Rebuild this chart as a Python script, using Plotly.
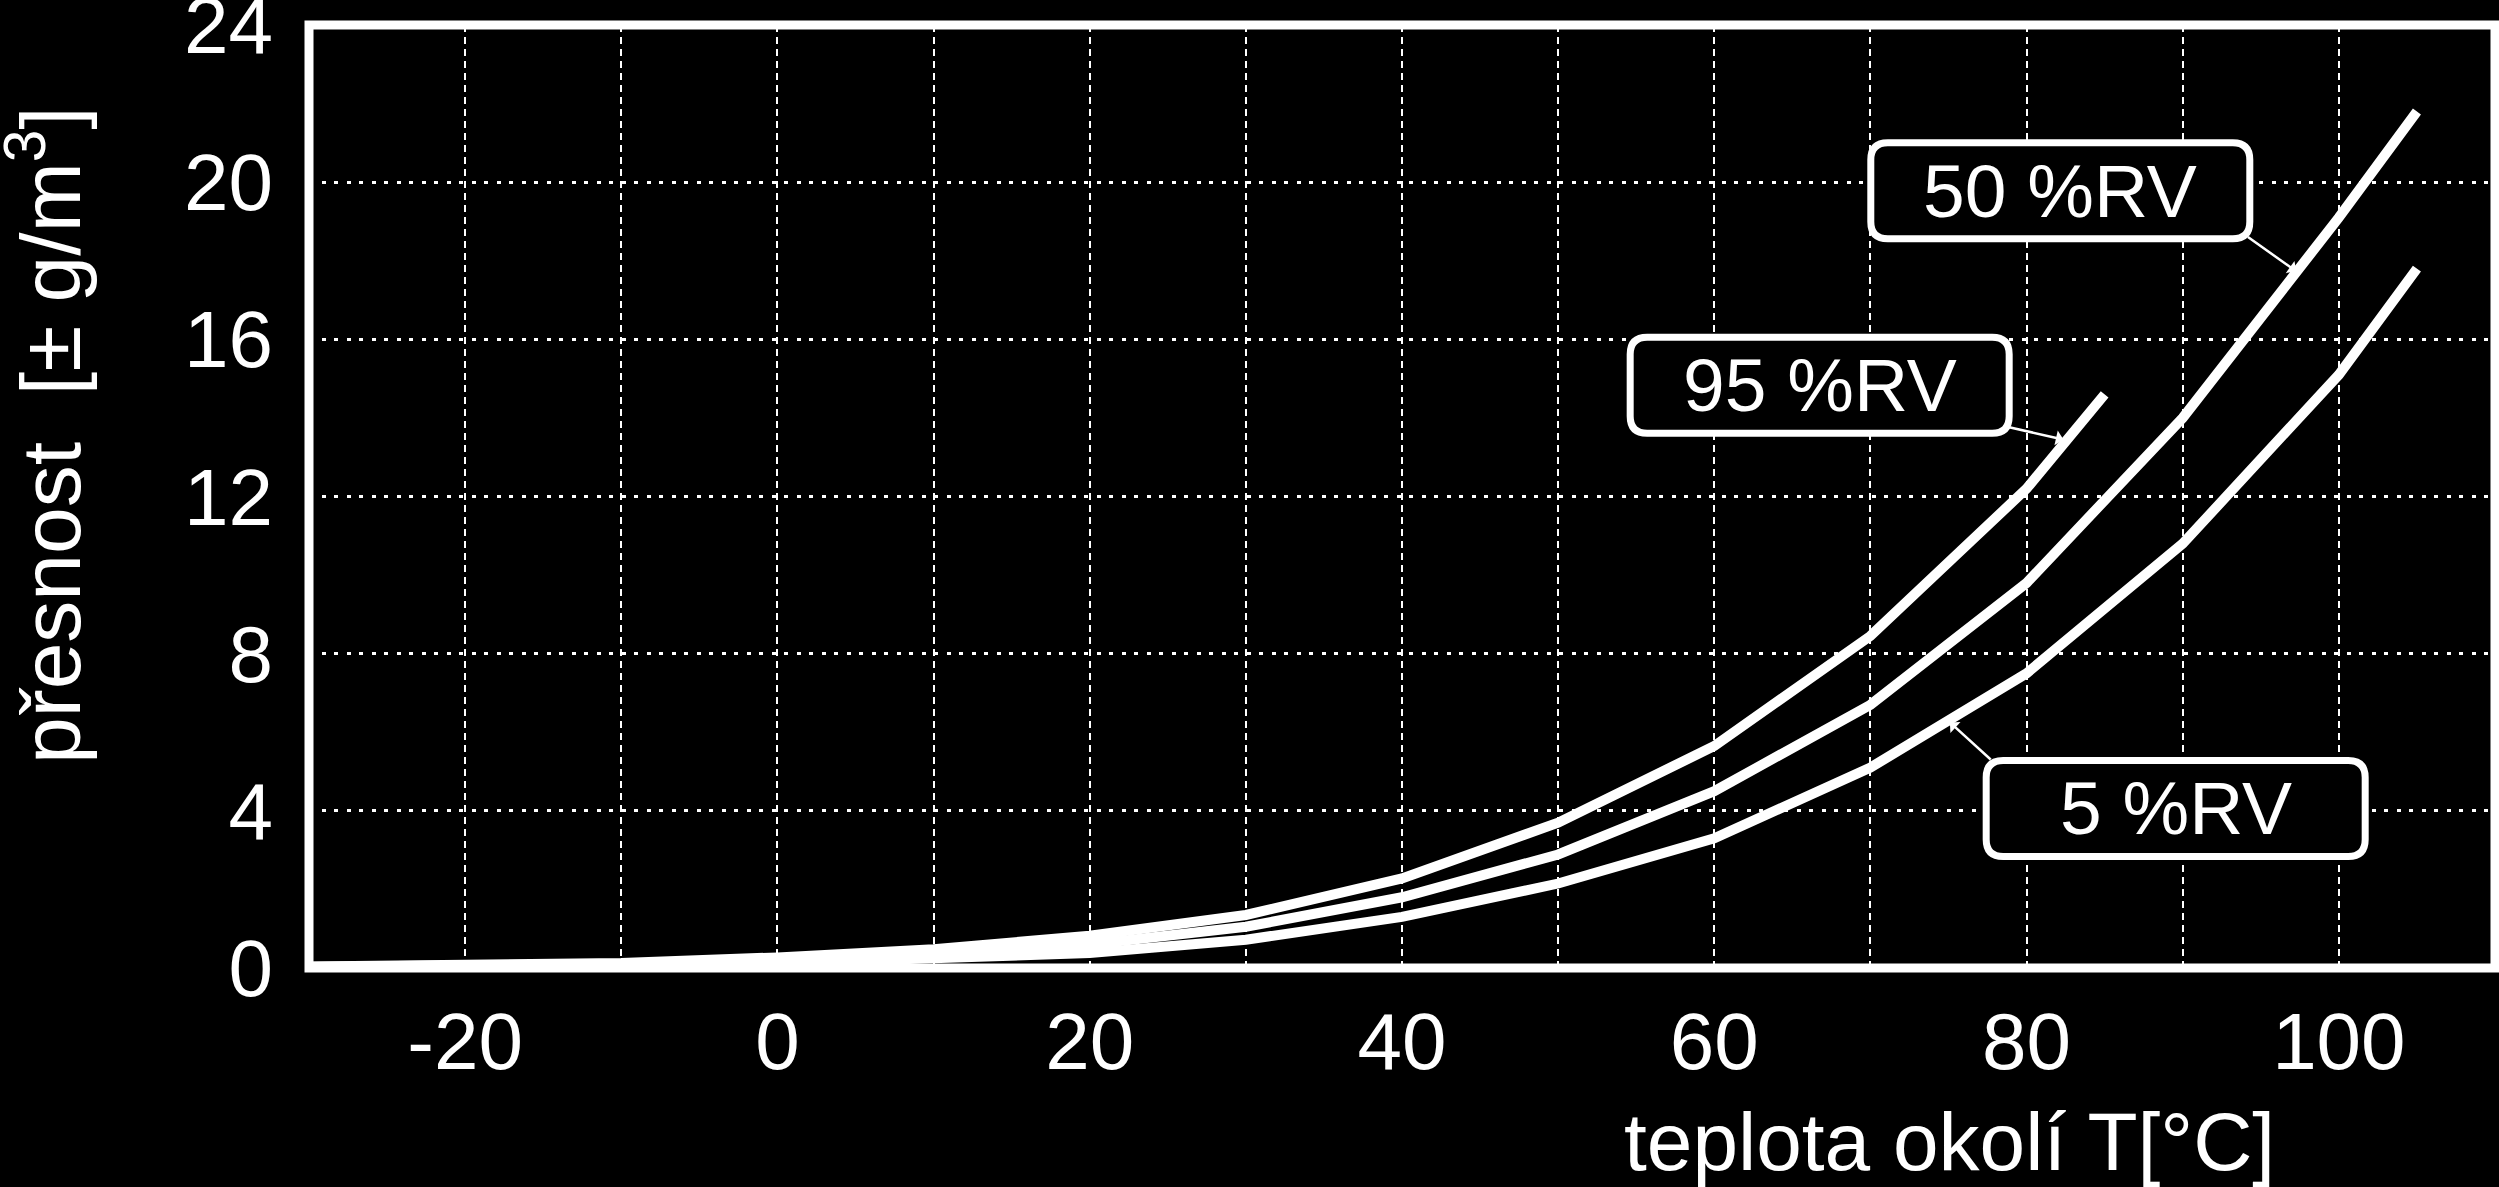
import plotly.graph_objects as go

# ---------------- data ----------------
temp_95 = [-30, -20, -10, 0, 10, 20, 30, 40, 50, 60, 70, 80, 85]
acc_95 = [0.04, 0.07, 0.13, 0.27, 0.48, 0.82, 1.35, 2.28, 3.70, 5.65, 8.45, 12.2, 14.6]

temp_50 = [-30, -20, -10, 0, 10, 20, 30, 40, 50, 60, 70, 80, 90, 100, 105]
acc_50 = [0.03, 0.05, 0.10, 0.20, 0.36, 0.60, 1.05, 1.80, 2.89, 4.50, 6.70, 9.80, 14.0, 19.1, 21.8]

temp_5 = [-30, -20, -10, 0, 10, 20, 30, 40, 50, 60, 70, 80, 90, 100, 105]
acc_5 = [0.02, 0.03, 0.06, 0.12, 0.22, 0.38, 0.72, 1.30, 2.15, 3.30, 5.10, 7.50, 10.8, 15.1, 17.8]

x_tick_vals = [-20, -10, 0, 10, 20, 30, 40, 50, 60, 70, 80, 90, 100]
x_tick_text = ["-20", "", "0", "", "20", "", "40", "", "60", "", "80", "", "100"]
y_tick_vals = [0, 4, 8, 12, 16, 20, 24]
y_tick_text = ["0", "4", "8", "12", "16", "20", "24"]

series_labels = ["95 %RV", "50 %RV", "5 %RV"]

x_title = "teplota okolí T[°C]"
y_title = "přesnost  [± g/m<sup>3</sup>]"

FONT = "Liberation Sans, Arial, sans-serif"

fig = go.Figure()
for tx, ty, name in [(temp_95, acc_95, series_labels[0]),
                     (temp_50, acc_50, series_labels[1]),
                     (temp_5, acc_5, series_labels[2])]:
    fig.add_trace(go.Scatter(x=tx, y=ty, mode="lines", name=name,
                             line=dict(color="white", width=10),
                             showlegend=False, cliponaxis=False))


def rounded_box(cx, cy, hw=189.5, hh=48, r=17):
    p = (f"M {-hw + r},{-hh} L {hw - r},{-hh} Q {hw},{-hh} {hw},{-hh + r} "
         f"L {hw},{hh - r} Q {hw},{hh} {hw - r},{hh} "
         f"L {-hw + r},{hh} Q {-hw},{hh} {-hw},{hh - r} "
         f"L {-hw},{-hh + r} Q {-hw},{-hh} {-hw + r},{-hh} Z")
    return dict(type="path", path=p, xref="x", yref="y",
                xsizemode="pixel", ysizemode="pixel",
                xanchor=cx, yanchor=cy,
                line=dict(color="white", width=7), fillcolor="black",
                layer="above")


# label boxes: (label, box centre, arrow tail, arrow tip)
label_specs = [
    (series_labels[0], (66.75, 14.83), (78.69, 13.78), (82.36, 13.45)),
    (series_labels[1], (82.16, 19.78), (94.05, 18.64), (97.27, 17.73)),
    (series_labels[2], (89.55, 4.06), (77.83, 5.26), (75.09, 6.25)),
]

shapes = []
annotations = []
for lab, (bx, by), (tx0, ty0), (tx1, ty1) in label_specs:
    shapes.append(rounded_box(bx, by))
    annotations.append(dict(x=bx, y=by, xref="x", yref="y", text=lab,
                            showarrow=False, xanchor="center", yanchor="middle",
                            font=dict(family=FONT, size=75, color="white")))
    annotations.append(dict(x=tx1, y=ty1, xref="x", yref="y", text=" ",
                            ax=tx0, ay=ty0, axref="x", ayref="y",
                            showarrow=True, arrowhead=1, arrowsize=1.0,
                            arrowwidth=2.5, arrowcolor="white", standoff=0,
                            font=dict(size=2)))

# frame
shapes.append(dict(type="rect", xref="paper", yref="paper", x0=0, x1=1, y0=0, y1=1,
                   line=dict(color="white", width=9), layer="above"))

annotations.append(dict(xref="paper", yref="paper", x=0.9003, y=-0.184,
                        xanchor="right", yanchor="middle", text=x_title,
                        showarrow=False, font=dict(family=FONT, size=82, color="white")))
annotations.append(dict(xref="paper", yref="paper", x=-0.121, y=0.5657,
                        xanchor="center", yanchor="middle", text=y_title, textangle=-90,
                        showarrow=False, font=dict(family=FONT, size=84, color="white")))

fig.update_layout(
    width=2499, height=1187,
    margin=dict(l=309, r=4, t=25, b=219, autoexpand=False),
    paper_bgcolor="black", plot_bgcolor="black",
    shapes=shapes, annotations=annotations,
    font=dict(family=FONT, color="white"),
    xaxis=dict(range=[-30, 110], tickmode="array", tickvals=x_tick_vals, ticktext=x_tick_text,
               showgrid=True, gridcolor="white", gridwidth=2, griddash="7px,5px",
               zeroline=False, showline=False, ticks="", automargin=False,
               tickfont=dict(family=FONT, size=80, color="white"),
               ticklabelstandoff=20, ticklabeloverflow="allow", fixedrange=True),
    yaxis=dict(range=[0, 24], tickmode="array", tickvals=y_tick_vals, ticktext=y_tick_text,
               showgrid=True, gridcolor="white", gridwidth=3, griddash="4px,8.5px",
               zeroline=False, showline=False, ticks="", automargin=False,
               tickfont=dict(family=FONT, size=80, color="white"),
               ticklabelstandoff=35, ticklabeloverflow="allow", fixedrange=True),
)

fig.write_html("out.html")
